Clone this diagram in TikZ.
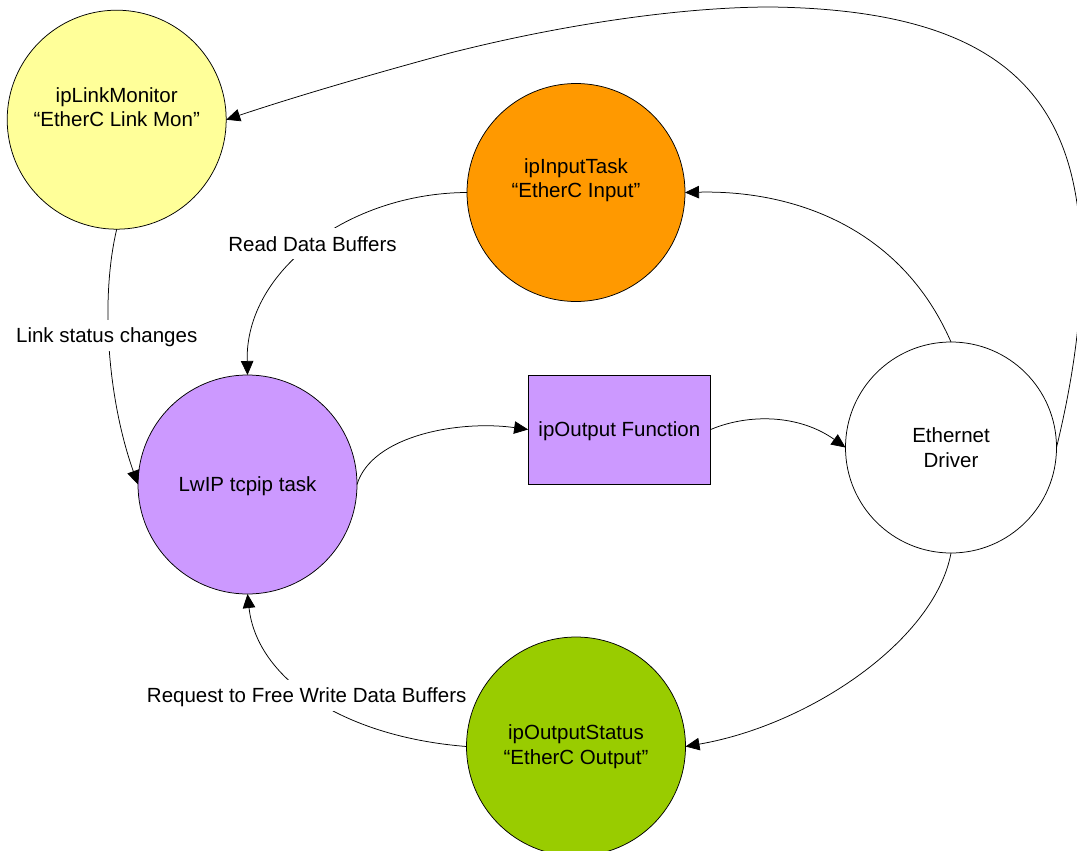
\documentclass[tikz,border=0pt]{standalone}
\usepackage{fontspec}
\setmainfont{Liberation Sans}
\usetikzlibrary{arrows.meta}
\definecolor{cyellow}{HTML}{FFFF99}
\definecolor{corange}{HTML}{FF9900}
\definecolor{cpurple}{HTML}{CC99FF}
\definecolor{cgreen}{HTML}{99CC00}
\begin{document}
\begin{tikzpicture}[x=1pt,y=-1pt,
  every node/.style={font=\fontsize{20.5}{24.5}\selectfont, inner sep=0pt, outer sep=0pt},
  proc/.style={circle, draw=black, line width=0.75pt, minimum size=#1, align=center},
  twoline/.style={align=center, yshift=12.5pt},
  oneline/.style={text height=14.7pt, text depth=0pt},
  funcbox/.style={rectangle, draw=black, line width=0.75pt, fill=cpurple, minimum width=182.5pt, minimum height=109pt},
  conn/.style={draw=black, line width=0.75pt, -{Triangle[length=14pt,width=12.5pt]}},
  elbl/.style={fill=white, anchor=base, text height=19pt, text depth=4pt, inner xsep=2pt, inner ysep=4pt}
]
\useasboundingbox (0,0) rectangle (1077,851);
\clip (0,0) rectangle (1077,851);

% nodes
\node[proc=219pt, fill=cyellow, label={[twoline]center:ipLinkMonitor\\“EtherC Link Mon”}] (mon) at (116.7,119.7) {};
\node[proc=218pt, fill=corange, label={[twoline]center:ipInputTask\\“EtherC Input”}] (inp) at (576,192.5) {};
\node[proc=219pt, fill=cpurple, oneline] (lwip) at (247.5,484.5) {LwIP tcpip task};
\node[funcbox, oneline] (outf) at (619.4,429.5) {ipOutput Function};
\node[proc=211pt, fill=white] (eth) at (951,447.5) {Ethernet\\Driver};
\node[proc=219pt, fill=cgreen] (ost) at (576,746.5) {ipOutputStatus\\“EtherC Output”};

% connectors
\draw[conn] (mon.south) .. controls (100,300) and (108,400) .. (lwip.west);
\draw[conn] (inp.west) .. controls (350,193) and (245,270) .. (lwip.north);
\draw[conn] (lwip.east) .. controls (372,435) and (460,420) .. (outf.west);
\draw[conn] (outf.east) .. controls (750,413) and (800,415) .. (eth.west);
\draw[conn] (eth.north) .. controls (900,225) and (790,190) .. (inp.east);
\draw[conn] (eth.south) .. controls (935,640) and (810,725) .. (ost.east);
\draw[conn] (ost.west) .. controls (345,737) and (257,680) .. (lwip.south);
\coordinate (loopA) at (1081,260);
\coordinate (loopB) at (771,7);
\coordinate (loopC) at (450,53);
\draw[conn] (eth.east) .. controls (1068,400) and (1082,330) .. (loopA)
  .. controls (1080,95) and (1000,10) .. (loopB)
  .. controls (680,7) and (560,25) .. (loopC)
  .. controls (380,72) and (300,95) .. (mon.east);

% connector labels
\node[elbl] (lblLink) at (106.7,342.7) {Link status changes};
\node[elbl] (lblRead) at (312.5,251) {Read Data Buffers};
\node[elbl] (lblFree) at (306.7,702.7) {Request to Free Write Data Buffers};
\end{tikzpicture}
\end{document}
